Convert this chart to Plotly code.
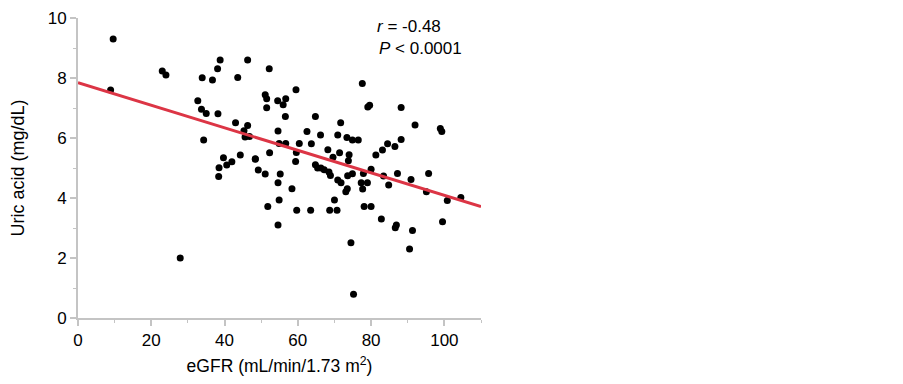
import plotly.graph_objects as go

egfr = [9.6, 8.9, 23.0, 24.0, 27.9, 32.7, 33.7, 35.0, 33.9, 36.7, 38.1, 38.8, 38.2, 34.3,
        43.6, 46.3, 43.0, 46.3, 45.3, 45.6, 46.8, 44.3, 39.7, 40.6, 42.0, 38.5, 38.4,
        48.4, 49.2, 51.1, 52.2, 59.5, 51.1, 51.5, 54.5, 56.0, 56.7, 51.5, 56.6, 64.8,
        77.6, 79.1, 79.6, 88.2, 92.0, 98.9, 99.3, 54.6, 62.5, 66.2, 70.9, 71.7, 73.4,
        74.9, 76.5, 54.9, 56.7, 60.4, 63.7, 52.3, 59.6, 68.2, 71.4, 74.0, 81.3, 83.1,
        84.5, 86.5, 88.2, 59.4, 69.6, 55.2, 64.8, 65.4, 66.3, 67.2, 68.5, 68.9, 70.9,
        71.8, 73.6, 74.9, 77.9, 80.0, 87.2, 90.9, 95.7, 54.6, 58.4, 51.8, 54.9, 59.7,
        63.5, 68.7, 70.7, 70.0, 54.6, 73.1, 73.5, 77.3, 77.7, 79.0, 78.1, 80.0, 74.5,
        75.2, 82.8, 86.6, 86.9, 91.3, 90.5, 99.5, 84.8, 95.1, 100.8, 104.5, 83.4,
        73.8, 48.4]
uric_acid = [9.3, 7.6, 8.23, 8.1, 2.0, 7.24, 6.96, 6.82, 8.01, 7.93, 8.31, 8.6, 6.81, 5.93,
             8.02, 8.6, 6.51, 6.42, 6.24, 6.03, 6.05, 5.43, 5.34, 5.1, 5.21, 5.01, 4.72,
             5.31, 4.93, 4.8, 8.31, 7.61, 7.44, 7.31, 7.24, 7.11, 7.31, 7.01, 6.72, 6.72,
             7.82, 7.03, 7.09, 7.02, 6.43, 6.32, 6.22, 6.23, 6.22, 6.1, 6.1, 6.51, 6.02,
             5.93, 5.93, 5.82, 5.82, 5.82, 5.81, 5.51, 5.52, 5.61, 5.51, 5.44, 5.43, 5.6,
             5.81, 5.72, 5.95, 5.22, 5.36, 4.8, 5.11, 5.0, 5.0, 4.94, 4.87, 4.75, 4.6,
             4.51, 4.74, 4.81, 4.82, 4.96, 4.82, 4.62, 4.82, 4.51, 4.31, 3.72, 3.93, 3.59,
             3.59, 3.59, 3.59, 3.93, 3.1, 4.21, 4.31, 4.51, 4.3, 4.51, 3.72, 3.72, 2.51,
             0.79, 3.3, 3.01, 3.1, 2.92, 2.3, 3.21, 4.43, 4.21, 3.92, 4.02, 4.73,
             5.24, 5.29]

fit_intercept = 7.84
fit_slope = -0.0375
fit_x = [0, 110]
fit_y = [fit_intercept + fit_slope * v for v in fit_x]

x_ticks = [0, 20, 40, 60, 80, 100]
y_ticks = [0, 2, 4, 6, 8, 10]

font = "Arial, 'Liberation Sans', sans-serif"
axis_color = "#c4c4c4"

fig = go.Figure()
fig.add_trace(go.Scatter(
    x=egfr, y=uric_acid, mode="markers",
    marker=dict(color="black", size=7, line=dict(width=0)),
    showlegend=False, hoverinfo="skip"))
fig.add_trace(go.Scatter(
    x=fit_x, y=fit_y, mode="lines",
    line=dict(color="#dc3545", width=3),
    showlegend=False, hoverinfo="skip"))

# page body has an 8px default margin; figure sized to fill the 903x384 window
fig.update_layout(
    width=887, height=368,
    margin=dict(l=70, r=414, t=10, b=58),
    plot_bgcolor="white", paper_bgcolor="white",
    font=dict(family=font, size=17, color="black"),
    xaxis=dict(
        range=[0, 110], tickvals=x_ticks, showgrid=False, zeroline=False,
        showline=True, linecolor=axis_color, linewidth=2, automargin=False,
        ticks="outside", ticklen=6, tickcolor=axis_color, tickwidth=2,
        minor=dict(dtick=10, ticks="outside", ticklen=3, tickcolor=axis_color, tickwidth=1),
        tickfont=dict(size=17),
        title=dict(text="eGFR (mL/min/1.73 m<sup>2</sup>)", font=dict(size=17.5), standoff=12),
    ),
    yaxis=dict(
        range=[0, 10], tickvals=y_ticks, showgrid=False, zeroline=False,
        showline=True, linecolor=axis_color, linewidth=2, automargin=False,
        ticks="outside", ticklen=6, tickcolor=axis_color, tickwidth=2,
        minor=dict(dtick=1, ticks="outside", ticklen=3, tickcolor=axis_color, tickwidth=1),
        tickfont=dict(size=17),
        title=dict(text="Uric acid (mg/dL)", font=dict(size=18), standoff=20),
    ),
    annotations=[
        dict(x=81.2, y=9.73, xref="x", yref="y", xanchor="left", yanchor="middle",
             text="<i>r</i> = -0.48", showarrow=False, font=dict(size=17)),
        dict(x=81.5, y=8.99, xref="x", yref="y", xanchor="left", yanchor="middle",
             text="<i>P</i> < 0.0001", showarrow=False, font=dict(size=17)),
    ],
)

fig.write_html("out.html")
